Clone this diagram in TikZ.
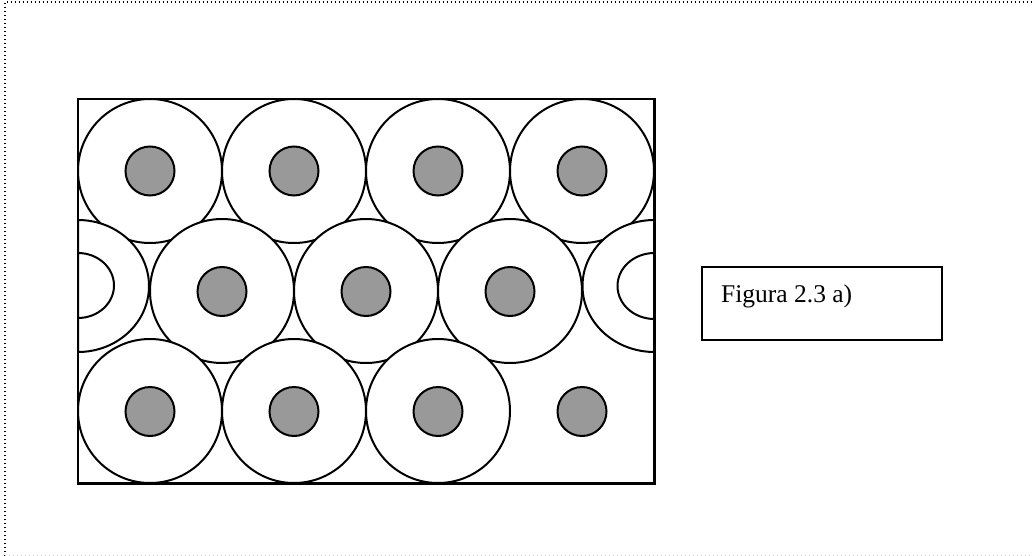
\documentclass[tikz,border=0pt]{standalone}
\usepackage{fontspec}
\setmainfont{Liberation Serif}
\definecolor{dotgray}{RGB}{153,153,153}
\definecolor{faint}{RGB}{200,200,200}
\begin{document}
\begin{tikzpicture}[x=1pt,y=-1pt,
  ring/.style={draw=black,line width=2pt,fill=white},
  core/.style={draw=black,line width=2pt,fill=dotgray},
  frameline/.style={line width=1.6pt,dash pattern=on 1.4pt off 2.6pt}]
\useasboundingbox (0,0) rectangle (1032,556);
% dotted page frame
\draw[frameline,black] (4.7,556) -- (4.7,2.3) -- (1034,2.3);
\draw[frameline,faint] (4.7,555.5) -- (1034,555.5);
% main rectangle
\draw[line width=2.2pt,fill=white] (78,99) rectangle (654.5,483.5);
% row 1
\foreach \x in {150,294,438,582} \draw[ring] (\x,171) circle (72);
% row 2 half ellipses
\draw[ring] (78,220) arc[start angle=-90,end angle=90,x radius=71,y radius=66] -- cycle;
\draw[ring] (78,253) arc[start angle=-90,end angle=90,x radius=36,y radius=32.5] -- cycle;
\draw[ring] (654.5,220) arc[start angle=-90,end angle=-270,x radius=72,y radius=66] -- cycle;
\draw[ring] (654.5,253) arc[start angle=-90,end angle=-270,x radius=37,y radius=33] -- cycle;
% row 2 circles
\foreach \x in {222,366,510} \draw[ring] (\x,291) circle (72);
% row 3
\foreach \x in {150,294,438} \draw[ring] (\x,411) circle (72);
% cores
\foreach \x in {150,294,438,582} \draw[core] (\x,171) circle (24.5);
\foreach \x in {222,366,510} \draw[core] (\x,291.5) circle (24.5);
\foreach \x in {150,294,438,582} \draw[core] (\x,411.5) circle (24.5);
% re-stroke rectangle border
\draw[line width=2.2pt] (78,99) rectangle (654.5,483.5);
% label box
\draw[line width=2pt] (702,267) rectangle (942,340);
\node[anchor=base west,inner sep=0pt,font=\fontsize{25.5}{30}\selectfont] (lbl) at (721,302) {Figura 2.3 a)};
\end{tikzpicture}
\end{document}
